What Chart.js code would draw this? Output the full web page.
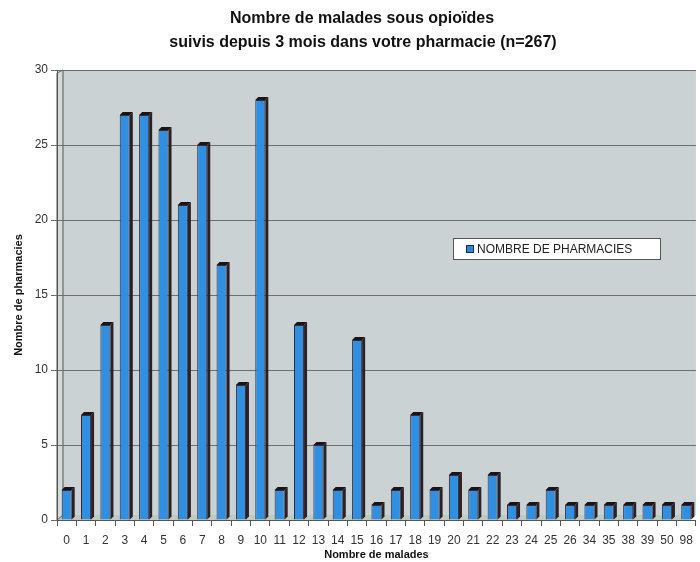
<!DOCTYPE html>
<html>
<head>
<meta charset="utf-8">
<script src="https://cdn.jsdelivr.net/npm/chart.js@4/dist/chart.umd.min.js"></script>
<style>
html,body{margin:0;padding:0;background:#fff;}
#wrap{width:700px;height:562px;position:relative;}
</style>
</head>
<body>
<div id="wrap"><canvas id="c" width="700" height="562"></canvas></div>
<script>
const categories = ['0','1','2','3','4','5','6','7','8','9','10','11','12','13','14','15','16','17','18','19','20','21','22','23','24','25','26','34','35','38','39','50','98'];
const pharmacies = [2,7,13,27,27,26,21,25,17,9,28,2,13,5,2,12,1,2,7,2,3,2,3,1,1,2,1,1,1,1,1,1,1];
const yTicks = [0,5,10,15,20,25,30];
const titleLines = ['Nombre de malades sous opioïdes','suivis depuis 3 mois dans votre pharmacie (n=267)'];
const seriesName = 'NOMBRE DE PHARMACIES';
const xTitle = 'Nombre de malades';
const yTitle = 'Nombre de pharmacies';

const FONT = "'Liberation Sans', Arial, sans-serif";

const titlePlugin = {
  id: 'titlePlugin',
  afterDraw(chart) {
    const {ctx} = chart;
    ctx.save();
    ctx.fillStyle = '#111';
    ctx.font = 'bold 16px ' + FONT;
    ctx.textAlign = 'center';
    ctx.textBaseline = 'middle';
    ctx.fillText(titleLines[0], 362, 19);
    ctx.fillText(titleLines[1], 363, 43);
    ctx.restore();
  }
};

const bgPlugin = {
  id: 'bgPlugin',
  beforeDraw(chart) {
    const {ctx, chartArea: a} = chart;
    ctx.save();
    ctx.fillStyle = '#cad2d3';
    ctx.fillRect(a.left + 6, a.top, a.right - a.left - 6, a.bottom - a.top - 5);
    // floor strip
    ctx.fillStyle = '#bccbc3';
    ctx.beginPath();
    ctx.moveTo(a.left, a.bottom);
    ctx.lineTo(a.left + 6, a.bottom - 5);
    ctx.lineTo(a.right, a.bottom - 5);
    ctx.lineTo(a.right - 6, a.bottom);
    ctx.closePath();
    ctx.fill();
    // left wall
    ctx.fillStyle = '#d4dada';
    ctx.beginPath();
    ctx.moveTo(a.left, a.top + 3);
    ctx.lineTo(a.left + 6, a.top);
    ctx.lineTo(a.left + 6, a.bottom - 5);
    ctx.lineTo(a.left, a.bottom);
    ctx.closePath();
    ctx.fill();
    ctx.strokeStyle = '#555';
    ctx.lineWidth = 1;
    ctx.stroke();
    ctx.restore();
  }
};

const bar3d = {
  id: 'bar3d',
  afterDatasetsDraw(chart) {
    const {ctx} = chart;
    const meta = chart.getDatasetMeta(0);
    ctx.save();
    meta.data.forEach(el => {
      const p = el.getProps(['x','y','base','width'], true);
      const l = p.x - p.width / 2, r = p.x + p.width / 2, d = 3;
      ctx.fillStyle = '#2b2026';
      ctx.beginPath();
      ctx.moveTo(r, p.y);
      ctx.lineTo(r + d, p.y - d);
      ctx.lineTo(r + d, p.base - d);
      ctx.lineTo(r, p.base);
      ctx.closePath();
      ctx.fill();
      ctx.fillStyle = '#1a1418';
      ctx.beginPath();
      ctx.moveTo(l, p.y);
      ctx.lineTo(l + d, p.y - d);
      ctx.lineTo(r + d, p.y - d);
      ctx.lineTo(r, p.y);
      ctx.closePath();
      ctx.fill();
    });
    ctx.restore();
  }
};

const legendBox = {
  id: 'legendBox',
  afterDraw(chart) {
    const {ctx} = chart;
    ctx.save();
    const x = 453, y = 238, w = 207, h = 21;
    ctx.fillStyle = '#ffffff';
    ctx.fillRect(x, y, w, h);
    ctx.strokeStyle = '#555';
    ctx.lineWidth = 1;
    ctx.strokeRect(x + 0.5, y + 0.5, w, h);
    ctx.fillStyle = '#2e86d8';
    ctx.fillRect(x + 13, y + 7, 8, 8);
    ctx.strokeStyle = '#1d2a55';
    ctx.strokeRect(x + 13.5, y + 7.5, 7, 7);
    ctx.fillStyle = '#222';
    ctx.font = '12px ' + FONT;
    ctx.textBaseline = 'middle';
    ctx.fillText(seriesName, x + 24, y + h / 2 + 1);
    ctx.restore();
  }
};

new Chart(document.getElementById('c'), {
  type: 'bar',
  data: {
    labels: categories,
    datasets: [{
      label: seriesName,
      data: pharmacies,
      backgroundColor: '#2f8fe2',
      borderColor: '#3a2a33',
      borderWidth: 1,
      barPercentage: 0.52,
      categoryPercentage: 1.0
    }]
  },
  options: {
    responsive: false,
    animation: false,
    layout: {padding: {left: 12, right: 4, top: 70, bottom: 0}},
    plugins: {
      legend: {display: false},
      tooltip: {enabled: false},
      title: {display: false}
    },
    scales: {
      x: {
        offset: true,
        afterFit(scale) { scale.height = 42; },
        grid: {display: true, drawOnChartArea: false, drawTicks: true, tickLength: 6, color: '#555', offset: true},
        border: {display: true, color: '#555'},
        ticks: {color: '#333', font: {family: FONT, size: 12}, padding: 7, maxRotation: 0, autoSkip: false},
        title: {display: true, text: xTitle, color: '#111', font: {family: FONT, size: 11, weight: 'bold'}, padding: {top: 0, bottom: 0}}
      },
      y: {
        min: 0, max: 30,
        afterBuildTicks(scale) { scale.ticks = yTicks.map(v => ({value: v})); },
        afterFit(scale) { scale.width = 45; },
        grid: {color: '#6b6f6f', lineWidth: 1, tickLength: 6, drawTicks: true},
        border: {display: true, color: '#555'},
        ticks: {color: '#333', font: {family: FONT, size: 12}, padding: 3},
        title: {display: true, text: yTitle, color: '#111', font: {family: FONT, size: 11, weight: 'bold'}, padding: {top: 0, bottom: 4}}
      }
    }
  },
  plugins: [bgPlugin, bar3d, legendBox, titlePlugin]
});
</script>
</body>
</html>
